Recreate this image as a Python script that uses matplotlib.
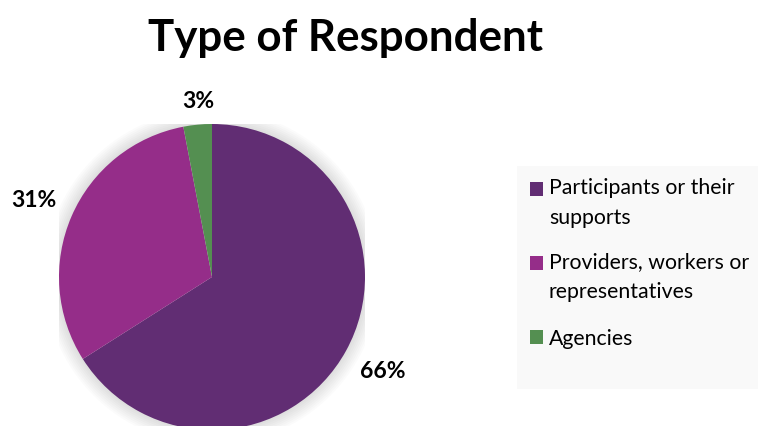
import numpy as np
import matplotlib
matplotlib.use("Agg")
import matplotlib.pyplot as plt
from matplotlib.patches import Rectangle, Circle

plt.rcParams['font.family'] = ['Lato', 'DejaVu Sans']

categories = ["Participants or their\nsupports",
              "Providers, workers or\nrepresentatives",
              "Agencies"]
shares = [66, 31, 3]
colors = ['#612d73', '#952d89', '#548f51']

W, H = 758, 427
fig = plt.figure(figsize=(W / 100, H / 100), dpi=100)

# pie: centre (212, 278) px, radius ~153 px
cx, cy, r = 212, 278, 153
ax = fig.add_axes([(cx - r) / W, (H - cy - r) / H, 2 * r / W, 2 * r / H])

# soft shadow around the pie
for k in range(8):
    ax.add_patch(Circle((0, 0), 1 + 0.012 * (k + 1), facecolor='#000000',
                        alpha=0.016, edgecolor='none', zorder=0))

wedges, _, autotexts = ax.pie(shares, colors=colors, startangle=90, counterclock=False,
                              autopct='%1.0f%%', pctdistance=1.27,
                              radius=1, wedgeprops=dict(linewidth=0))
for w, t in zip(wedges, autotexts):
    t.set_fontsize(16.5)
    t.set_fontweight('bold')
    t.set_color('black')
    w.set_zorder(2)
# small slice label sits closer
ang = np.deg2rad((wedges[-1].theta1 + wedges[-1].theta2) / 2)
autotexts[-1].set_position((1.16 * np.cos(ang) + 0.02, 1.16 * np.sin(ang)))

ax.set_xlim(-1, 1)
ax.set_ylim(-1, 1)
ax.set_aspect('auto')
ax.axis('off')

fig.text(345 / W, 1 - 38 / H, "Type of Respondent", ha='center', va='center',
         fontsize=31.6, fontweight='bold')

# legend: grey box, square swatch on the first line of each entry
fig.patches.append(Rectangle((517 / W, 1 - 390 / H), (W - 517) / W, (390 - 167) / H,
                             transform=fig.transFigure, facecolor='#f9f9f9',
                             edgecolor='none', zorder=0))
line_h = 27
base = 197
for lab, col in zip(categories, colors):
    nl = lab.count('\n')
    fig.patches.append(Rectangle((530 / W, 1 - base / H), 13 / W, 14 / H,
                                 transform=fig.transFigure, facecolor=col,
                                 edgecolor='none', zorder=1))
    # baseline alignment of a multi-line text uses its last line
    fig.text(549 / W, 1 - (base + line_h * nl) / H, lab, ha='left', va='baseline',
             fontsize=15.3, linespacing=1.62)
    base += line_h * (nl + 1) + 20

fig.savefig("out.png", dpi=100)
